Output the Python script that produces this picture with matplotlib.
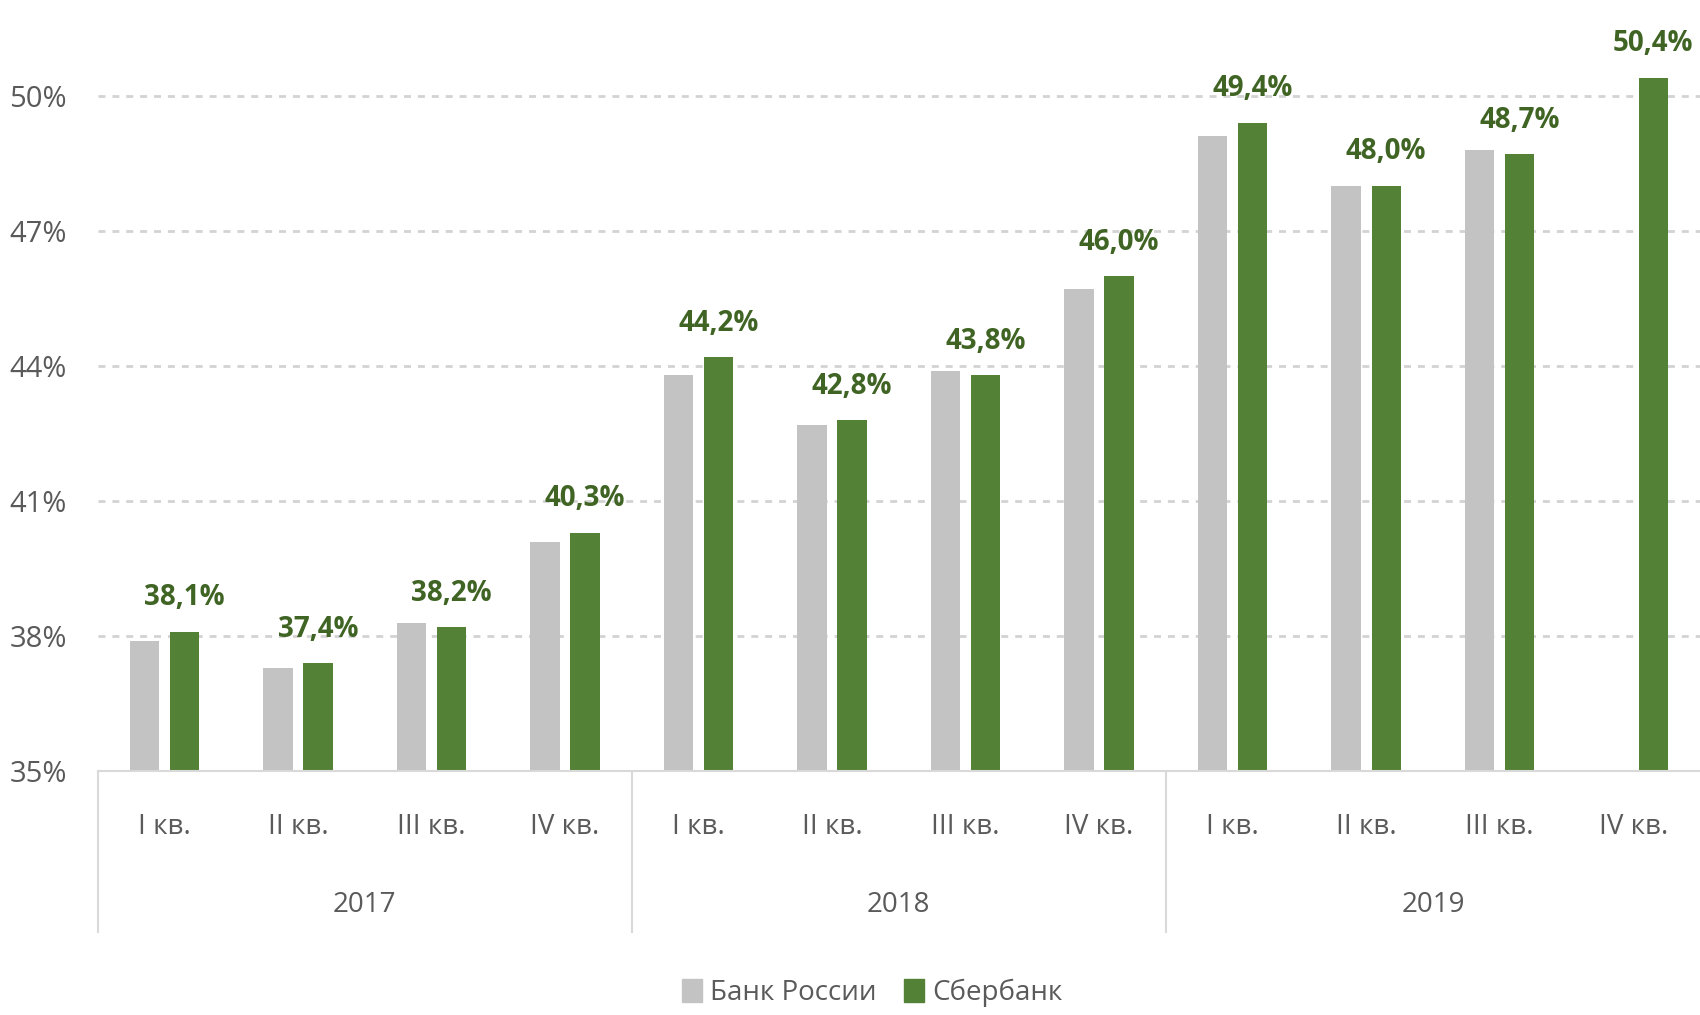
import matplotlib.pyplot as plt
from matplotlib.patches import Patch
from matplotlib.transforms import blended_transform_factory
import numpy as np

plt.rcParams['font.family'] = ['Open Sans', 'DejaVu Sans']

years = ['2017', '2018', '2019']
quarters = ['I кв.', 'II кв.', 'III кв.', 'IV кв.']
bank_russia = [37.9, 37.3, 38.3, 40.1, 43.8, 42.7, 43.9, 45.7, 49.1, 48.0, 48.8, np.nan]
sberbank = [38.1, 37.4, 38.2, 40.3, 44.2, 42.8, 43.8, 46.0, 49.4, 48.0, 48.7, 50.4]
yticks = [35, 38, 41, 44, 47, 50]

grey = '#C3C3C3'
green = '#538135'
label_green = '#3F6424'
text_grey = '#5A5A5A'

fig = plt.figure(figsize=(17, 10.15), dpi=100)
ax = fig.add_axes([0.0574, 0.240, 0.9426, 0.710])

x = np.arange(len(sberbank))
w = 0.22
off = 0.15
ax.bar(x - off, bank_russia, width=w, color=grey, zorder=3)
ax.bar(x + off, sberbank, width=w, color=green, zorder=3)

# подписи значений над зелёными столбцами
for xi, v in zip(x, sberbank):
    ax.annotate(f'{v:.1f}%'.replace('.', ','), (xi + off, v), xytext=(0, 14),
                textcoords='offset points', ha='center', va='bottom',
                fontsize=20, fontweight='bold', color=label_green)

ax.set_xlim(-0.5, len(sberbank) - 0.5)
ax.set_ylim(35, 51)
ax.set_yticks(yticks)
ax.set_yticklabels([f'{t}%' for t in yticks])
ax.tick_params(axis='y', length=0, pad=22, labelsize=21, labelcolor=text_grey)
ax.set_xticks([])
ax.grid(axis='y', color='#D3D3D3', linestyle=(0, (2.5, 2.5)), linewidth=2, zorder=0)
for s in ['top', 'right', 'left']:
    ax.spines[s].set_visible(False)
ax.spines['bottom'].set_color('#D9D9D9')
ax.spines['bottom'].set_linewidth(1.5)
ax.spines['bottom'].set_zorder(4)

# двухуровневая ось X: кварталы и годы
trans = blended_transform_factory(ax.transData, ax.transAxes)
for i in x:
    ax.text(i, -0.077, quarters[i % 4], transform=trans, ha='center', va='center',
            fontsize=20, color=text_grey)
for j, yr in enumerate(years):
    ax.text(j * 4 + 1.5, -0.185, yr, transform=trans, ha='center', va='center',
            fontsize=20, color=text_grey)
    ax.plot([j * 4 - 0.5, j * 4 - 0.5], [0, -0.223], transform=trans,
            color='#D9D9D9', linewidth=1.5, clip_on=False)

handles = [Patch(color=grey, label='Банк России'), Patch(color=green, label='Сбербанк')]
leg = fig.legend(handles=handles, loc='center', bbox_to_anchor=(0.513, 0.022), ncol=2,
                 frameon=False, fontsize=20, handlelength=0.7, handleheight=0.9,
                 handletextpad=0.3, columnspacing=1.0)
for t in leg.get_texts():
    t.set_color(text_grey)

fig.savefig('out.png', dpi=100, facecolor='white')
